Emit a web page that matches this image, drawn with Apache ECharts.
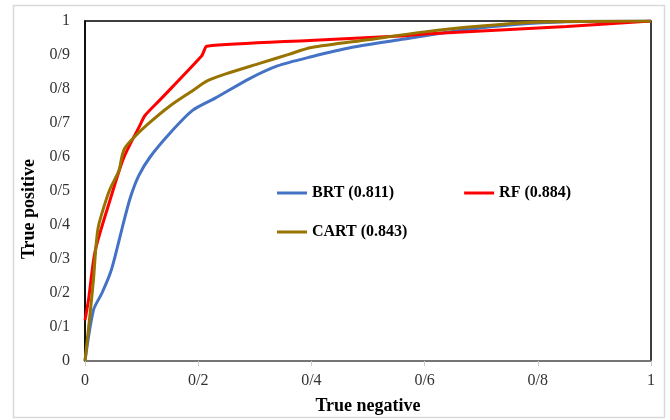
<!DOCTYPE html>
<html>
<head>
<meta charset="utf-8">
<script src="https://cdn.jsdelivr.net/npm/echarts@6/dist/echarts.min.js"></script>
<style>html,body{margin:0;padding:0;background:#fff}#c{width:670px;height:420px}</style>
</head>
<body>
<div id="c"></div>
<script>
const xTickLabels = ['0', '0/2', '0/4', '0/6', '0/8', '1'];
const yTickLabels = ['0', '0/1', '0/2', '0/3', '0/4', '0/5', '0/6', '0/7', '0/8', '0/9', '1'];
const seriesNames = ['BRT (0.811)', 'RF (0.884)', 'CART (0.843)'];
const brt = [[0,0],[0.015,0.15],[0.03,0.2],[0.045,0.26],[0.055,0.32],[0.067,0.40],[0.08,0.48],[0.095,0.545],[0.115,0.6],[0.15,0.67],[0.19,0.737],[0.23,0.773],[0.29,0.83],[0.34,0.868],[0.40,0.895],[0.47,0.922],[0.556,0.945],[0.674,0.975],[0.76,0.99],[0.85,0.998],[1,1]];
const rf = [[0,0.12],[0.006,0.178],[0.018,0.324],[0.044,0.472],[0.068,0.596],[0.097,0.693],[0.106,0.722],[0.1325,0.768],[0.206,0.897],[0.210,0.911],[0.215,0.926],[0.397,0.943],[0.556,0.956],[0.6,0.962],[0.851,0.984],[1,1]];
const cart = [[0,0],[0.009,0.14],[0.015,0.24],[0.019,0.33],[0.023,0.39],[0.03,0.435],[0.044,0.505],[0.06,0.56],[0.065,0.6],[0.07,0.625],[0.085,0.655],[0.11,0.695],[0.15,0.75],[0.19,0.795],[0.215,0.823],[0.25,0.845],[0.31,0.876],[0.36,0.902],[0.40,0.922],[0.5,0.945],[0.6,0.968],[0.7,0.985],[0.8,0.997],[1,1]];
const colors = ['#4472C4', '#FF0000', '#997300'];
const FONT = 'Liberation Serif';

const chart = echarts.init(document.getElementById('c'));
const mk = (name, data, color) => ({
  name, type: 'line', data, showSymbol: false, smooth: 0.25,
  lineStyle: { color, width: 3 }, itemStyle: { color }
});
chart.setOption({
  animation: false,
  graphic: [{ type: 'rect', shape: { x: 13.5, y: 5.5, width: 651, height: 412 }, style: { fill: 'none', stroke: '#d9d9d9', lineWidth: 1.5 } }],
  grid: { left: 85, right: 19, top: 21, bottom: 56, show: true, borderColor: '#000', borderWidth: 1.5, backgroundColor: 'transparent' },
  legend: [
    { data: [seriesNames[0], seriesNames[1]], left: 272, top: 180, itemGap: 70, icon: 'rect', itemWidth: 30, itemHeight: 3,
      textStyle: { fontFamily: FONT, fontWeight: 'bold', fontSize: 16, color: '#000' } },
    { data: [seriesNames[2]], left: 272, top: 219, icon: 'rect', itemWidth: 30, itemHeight: 3,
      textStyle: { fontFamily: FONT, fontWeight: 'bold', fontSize: 16, color: '#000' } }
  ],
  xAxis: {
    type: 'value', min: 0, max: 1, interval: 0.2,
    name: 'True negative', nameLocation: 'middle', nameGap: 36,
    nameTextStyle: { fontFamily: FONT, fontWeight: 'bold', fontSize: 18, color: '#000' },
    axisLine: { lineStyle: { color: '#888', width: 1.5 } },
    axisTick: { show: true, length: 5, lineStyle: { color: '#ccc' } },
    splitLine: { show: false },
    axisLabel: { fontFamily: FONT, fontSize: 16, color: '#333', margin: 12,
      formatter: v => xTickLabels[Math.round(v / 0.2)] }
  },
  yAxis: {
    type: 'value', min: 0, max: 1, interval: 0.1,
    name: 'True positive', nameLocation: 'middle', nameGap: 46,
    nameTextStyle: { fontFamily: FONT, fontWeight: 'bold', fontSize: 18, color: '#000', padding: [0, 36, 0, 0] },
    axisLine: { show: true, lineStyle: { color: '#000', width: 1.5 } },
    axisTick: { show: false },
    splitLine: { show: false },
    axisLabel: { fontFamily: FONT, fontSize: 16, color: '#333', margin: 15,
      formatter: v => yTickLabels[Math.round(v / 0.1)] }
  },
  series: [mk(seriesNames[0], brt, colors[0]), mk(seriesNames[1], rf, colors[1]), mk(seriesNames[2], cart, colors[2])]
});
</script>
</body>
</html>
